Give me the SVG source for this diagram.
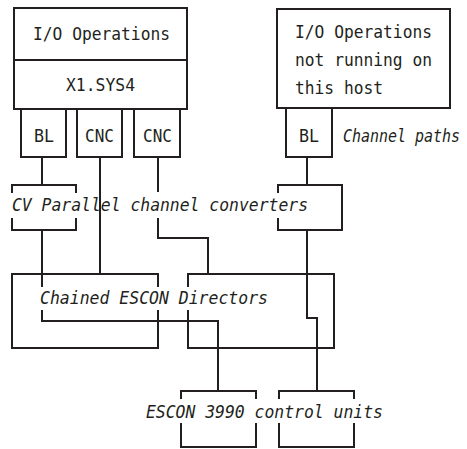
<svg xmlns="http://www.w3.org/2000/svg" width="467" height="449" viewBox="0 0 467 449">
<style>
.b{fill:#fff;stroke:#231f20;stroke-width:2}
.l{fill:none;stroke:#231f20;stroke-width:2}
text{font-family:"DejaVu Sans Mono","Liberation Mono",monospace;font-size:17.5px;fill:#231f20}
.i{font-style:italic}
</style>
<rect width="467" height="449" fill="#fff"/>
<g id="connectors">
<path class="l" d="M42 157V185M100 157V274M158 157V192M158 218V238H208V274M307 157V185"/>
<path class="l" d="M42 230V274M307 230V318H317V391"/>
<path class="l" d="M42 274V287M42 310V321H218V391"/>
</g>
<g id="host1">
<rect class="b" x="14" y="8" width="173" height="52"/>
<text x="33" y="40" textLength="137" lengthAdjust="spacingAndGlyphs">I/O Operations</text>
<rect class="b" x="14" y="60" width="173" height="49"/>
<text x="66" y="91" textLength="69" lengthAdjust="spacingAndGlyphs">X1.SYS4</text>
</g>
<g id="bl1"><rect class="b" x="21" y="109" width="45" height="48"/><text x="34" y="142" textLength="20" lengthAdjust="spacingAndGlyphs">BL</text></g>
<g id="cnc1"><rect class="b" x="77" y="109" width="45" height="48"/><text x="85" y="142" textLength="29" lengthAdjust="spacingAndGlyphs">CNC</text></g>
<g id="cnc2"><rect class="b" x="134" y="109" width="46" height="48"/><text x="143" y="142" textLength="29" lengthAdjust="spacingAndGlyphs">CNC</text></g>
<g id="host2">
<rect class="b" x="277" y="9" width="173" height="99"/>
<text x="295" y="38" textLength="137" lengthAdjust="spacingAndGlyphs">I/O Operations</text>
<text x="295" y="66" textLength="137" lengthAdjust="spacingAndGlyphs">not running on</text>
<text x="295" y="94" textLength="88" lengthAdjust="spacingAndGlyphs">this host</text>
</g>
<g id="bl2"><rect class="b" x="286" y="108" width="46" height="49"/><text x="299" y="142" textLength="20" lengthAdjust="spacingAndGlyphs">BL</text></g>
<text class="i" x="343" y="142" textLength="117" lengthAdjust="spacingAndGlyphs">Channel paths</text>
<g id="converters">
<path class="l" d="M12 193V185H76V193M12 218V230H76V218"/>
<path class="l" d="M278 193V185H342V230H278V218"/>
<text class="i" x="12" y="211" textLength="296" lengthAdjust="spacingAndGlyphs">CV Parallel channel converters</text>
</g>
<g id="directors">
<path class="l" d="M158 287V274H12V348H158V310"/>
<path class="l" d="M188 287V274H334V348H188V310"/>
<text class="i" x="40" y="304" textLength="228" lengthAdjust="spacingAndGlyphs">Chained ESCON Directors</text>
</g>
<g id="controlunits">
<path class="l" d="M181 399V391H256V399M181 423V447H256V423"/>
<path class="l" d="M279 399V391H354V399M279 423V447H354V423"/>
<text class="i" x="146" y="418" textLength="237" lengthAdjust="spacingAndGlyphs">ESCON 3990 control units</text>
</g>
</svg>
